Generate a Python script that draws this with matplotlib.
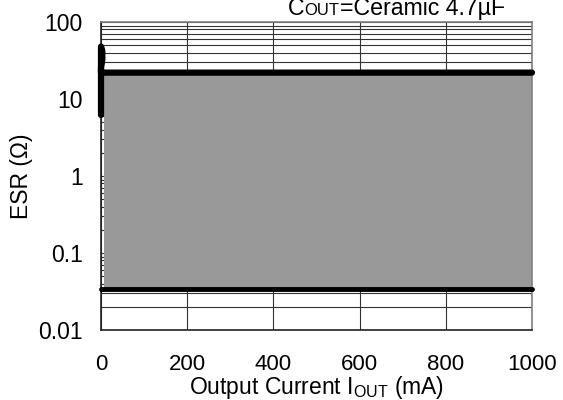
import matplotlib
matplotlib.use("Agg")
import matplotlib.pyplot as plt
from matplotlib.ticker import FixedLocator, LogLocator, NullFormatter

plt.rcParams['font.family'] = ['Liberation Sans', 'DejaVu Sans']

# ---- data ----
current_upper = [0, 0, 3, 3, 0, 0, 1000]          # mA
esr_upper = [6.2, 48, 42, 32, 26, 22, 22]          # ohm
current_lower = [0, 1000]
esr_lower = [0.034, 0.034]
current_fill = [7, 1000]
esr_fill_top = [22, 22]
esr_fill_bottom = [0.034, 0.034]
x_ticks = [0, 200, 400, 600, 800, 1000]
x_ticklabels = ["0", "200", "400", "600", "800", "1000"]
y_ticks = [0.01, 0.1, 1, 10, 100]
y_ticklabels = ["0.01", "0.1", "1", "10", "100"]

fig = plt.figure(figsize=(5.63, 4.0), dpi=100)
ax = fig.add_axes([101/563, 1-330/400, 431/563, 308/400])

ax.set_yscale('log')
ax.set_xlim(0, 1000)
ax.set_ylim(0.01, 100)

ax.fill_between(current_fill, esr_fill_bottom, esr_fill_top, color='#999999', linewidth=0, zorder=2)

ax.plot(current_upper, esr_upper, color='black', lw=4.5, solid_capstyle='round',
        solid_joinstyle='round', clip_on=False, zorder=4)
ax.plot(current_lower, esr_lower, color='black', lw=3.5, solid_capstyle='round',
        clip_on=False, zorder=4)

ax.xaxis.set_major_locator(FixedLocator(x_ticks))
ax.set_xticklabels(x_ticklabels)
ax.yaxis.set_major_locator(FixedLocator(y_ticks))
ax.set_yticklabels(y_ticklabels)
ax.yaxis.set_minor_locator(LogLocator(base=10, subs=[2, 3, 4, 5, 6, 7, 8, 9]))
ax.yaxis.set_minor_formatter(NullFormatter())

ax.set_axisbelow(True)
ax.grid(True, which='major', axis='x', color='#333333', lw=0.8)
ax.grid(True, which='both', axis='y', color='#333333', lw=0.8)

ax.tick_params(which='both', length=0)
ax.tick_params(axis='x', pad=17, labelsize=16)
ax.tick_params(axis='y', pad=13, labelsize=16.5)

for side in ['left', 'bottom']:
    ax.spines[side].set_color('#222222')
    ax.spines[side].set_linewidth(1.2)
for side in ['top', 'right']:
    ax.spines[side].set_color('#808080')
    ax.spines[side].set_linewidth(1.2)

ax.set_ylabel('ESR (Ω)', fontsize=16.5)
ax.yaxis.set_label_coords(-0.158, 0.5)
fig.text((101 + 431/2)/563, 6/400, r'Output Current I$_{\mathregular{OUT}}$ (mA)',
         fontsize=16.5, ha='center', va='baseline')

# title with small-cap "OUT"
renderer = fig.canvas.get_renderer()
x0 = 288
yb = 1 - 15/400
parts = [("C", 16.7), ("OUT", 12), ("=Ceramic 4.7µF", 16.7)]
x = x0
for s, fs in parts:
    t = fig.text(x/563, yb, s, fontsize=fs, ha='left', va='baseline')
    bb = t.get_window_extent(renderer=renderer)
    x += bb.width

fig.savefig('out.png', dpi=100)
